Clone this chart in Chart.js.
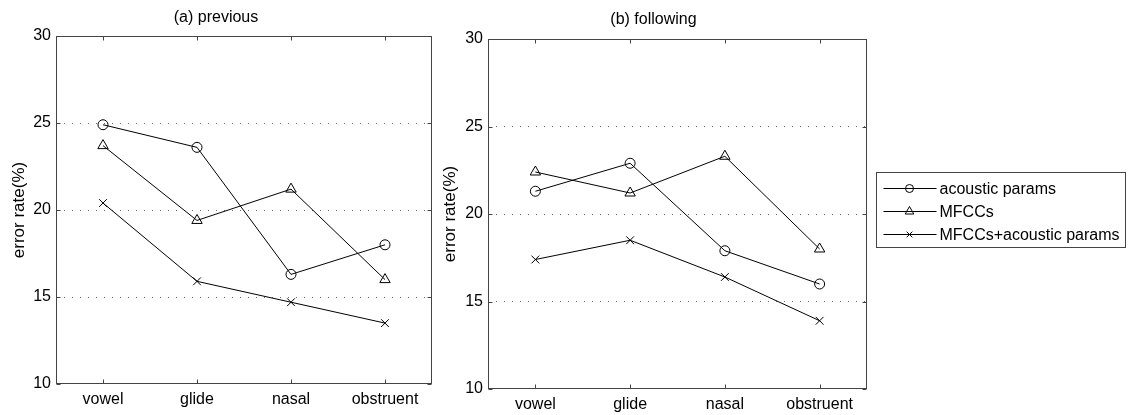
<!DOCTYPE html>
<html>
<head>
<meta charset="utf-8">
<script src="https://cdn.jsdelivr.net/npm/chart.js@4.4.0/dist/chart.umd.min.js"></script>
<style>
  html, body { margin: 0; padding: 0; background: #fff; }
  #wrap { position: relative; width: 1129px; height: 415px; }
  #left { position: absolute; left: 0; top: 0; }
  #right { position: absolute; left: 440px; top: 0; }
</style>
</head>
<body>
<div id="wrap">
  <canvas id="left" width="440" height="415"></canvas>
  <canvas id="right" width="689" height="415"></canvas>
</div>
<script>
// data
const categories = ["vowel", "glide", "nasal", "obstruent"];
const yTicks = [10, 15, 20, 25, 30];
const seriesNames = ["acoustic params", "MFCCs", "MFCCs+acoustic params"];

const prevAcoustic = [24.9, 23.6, 16.3, 18.0];
const prevMfcc = [23.7, 19.4, 21.2, 16.0];
const prevCombined = [20.4, 15.9, 14.7, 13.5];

const follAcoustic = [21.3, 22.9, 17.9, 16.0];
const follMfcc = [22.4, 21.2, 23.3, 18.0];
const follCombined = [17.4, 18.5, 16.4, 13.9];

Chart.defaults.font.family = "'Liberation Sans', Arial, Helvetica, sans-serif";
Chart.defaults.font.size = 16;
Chart.defaults.color = "#000";

const AXIS = "#444";
const markers = [
    { pointStyle: "circle", radius: 5 },
    { pointStyle: "triangle", radius: 6 },
    { pointStyle: "crossRot", radius: 5.5 }
];

function makeDatasets(a, b, c) {
    return [a, b, c].map(function (vals, i) {
        return {
            label: seriesNames[i],
            data: vals,
            borderColor: "#000",
            borderWidth: 1,
            backgroundColor: "rgba(0,0,0,0)",
            pointStyle: markers[i].pointStyle,
            pointRadius: markers[i].radius,
            pointHoverRadius: markers[i].radius,
            pointBorderColor: "#000",
            pointBackgroundColor: "rgba(0,0,0,0)",
            pointBorderWidth: 1,
            tension: 0,
            fill: false
        };
    });
}

// matlab-like box with inward ticks
const frame = {
    id: "frame",
    afterDraw: function (chart) {
        const ctx = chart.ctx;
        const a = chart.chartArea;
        const x = chart.scales.x, y = chart.scales.y;
        const L = Math.round(a.left) + 0.5, R = Math.round(a.right) - 0.5;
        const T = Math.round(a.top) + 0.5, B = Math.round(a.bottom) - 0.5;
        const len = 4;
        ctx.save();
        ctx.strokeStyle = AXIS;
        ctx.lineWidth = 1;
        ctx.beginPath();
        categories.forEach(function (c, i) {
            const px = Math.round(x.getPixelForValue(i)) + 0.5;
            ctx.moveTo(px, B); ctx.lineTo(px, B - len);
            ctx.moveTo(px, T); ctx.lineTo(px, T + len);
        });
        yTicks.forEach(function (v) {
            const py = Math.round(y.getPixelForValue(v)) + 0.5;
            ctx.moveTo(L, py); ctx.lineTo(L + len, py);
            ctx.moveTo(R, py); ctx.lineTo(R - len, py);
        });
        ctx.stroke();
        ctx.strokeRect(L, T, R - L, B - T);
        ctx.restore();
    }
};

// legend box to the right of panel (b)
const boxLegend = {
    id: "boxLegend",
    afterDraw: function (chart) {
        const ctx = chart.ctx;
        const a = chart.chartArea;
        const bx = Math.round(a.right) + 9.5, by = 172.5, bw = 249, bh = 75;
        ctx.save();
        ctx.fillStyle = "#fff";
        ctx.fillRect(bx, by, bw, bh);
        ctx.strokeStyle = AXIS;
        ctx.lineWidth = 1;
        ctx.strokeRect(bx, by, bw, bh);
        ctx.font = "16px 'Liberation Sans', Arial, sans-serif";
        ctx.textBaseline = "middle";
        chart.data.datasets.forEach(function (ds, i) {
            const ry = Math.round(by + 15.5 + i * 23) + 0.5;
            ctx.strokeStyle = "#000";
            ctx.beginPath();
            ctx.moveTo(bx + 7, ry);
            ctx.lineTo(bx + 60, ry);
            ctx.stroke();
            const r = ds.pointStyle === "circle" ? 4 : (ds.pointStyle === "triangle" ? 5 : 4);
            ctx.fillStyle = "rgba(0,0,0,0)";
            Chart.helpers.drawPoint(ctx, {
                pointStyle: ds.pointStyle, radius: r, rotation: 0, borderWidth: 1
            }, bx + 33, ry);
            ctx.fillStyle = "#000";
            ctx.fillText(ds.label, bx + 63, ry + 1);
        });
        ctx.restore();
    }
};

function makeChart(id, title, titlePad, datasets, cfg) {
    return new Chart(document.getElementById(id), {
        type: "line",
        data: { labels: categories, datasets: datasets },
        options: {
            responsive: false,
            animation: false,
            events: [],
            layout: { padding: { left: 0, right: cfg.padRight, top: 0, bottom: 0 } },
            plugins: {
                legend: { display: false },
                tooltip: { enabled: false },
                title: {
                    display: true,
                    text: title,
                    color: "#000",
                    font: { size: 16, weight: "normal" },
                    padding: titlePad
                }
            },
            scales: {
                x: {
                    type: "category",
                    offset: true,
                    grid: { display: false, drawTicks: false },
                    border: { display: false },
                    ticks: { padding: 6, color: "#000", maxRotation: 0 },
                    afterFit: function (s) { s.height = cfg.xHeight; }
                },
                y: {
                    min: 10,
                    max: 30,
                    afterBuildTicks: function (s) {
                        s.ticks = yTicks.map(function (v) { return { value: v }; });
                    },
                    grid: {
                        drawTicks: false,
                        color: function (c) {
                            return (c.tick && (c.tick.value === 10 || c.tick.value === 30)) ? "rgba(0,0,0,0)" : "#666";
                        },
                        lineWidth: 1
                    },
                    border: { display: false, dash: [1, 7] },
                    ticks: { padding: 5, color: "#000" },
                    title: {
                        display: true,
                        text: "error rate(%)",
                        color: "#000",
                        font: { size: 17 },
                        padding: { top: cfg.yTitlePad, bottom: 0 }
                    },
                    afterFit: function (s) { s.width = cfg.yWidth; }
                }
            }
        },
        plugins: cfg.plugins
    });
}

makeChart("left", "(a) previous", { top: 8, bottom: 8.8 },
    makeDatasets(prevAcoustic, prevMfcc, prevCombined),
    { padRight: 8, xHeight: 31, yWidth: 56, yTitlePad: 8.8, plugins: [frame] });

makeChart("right", "(b) following", { top: 10.4, bottom: 9.4 },
    makeDatasets(follAcoustic, follMfcc, follCombined),
    { padRight: 262, xHeight: 26, yWidth: 48, yTitlePad: 0, plugins: [frame, boxLegend] });
</script>
</body>
</html>
